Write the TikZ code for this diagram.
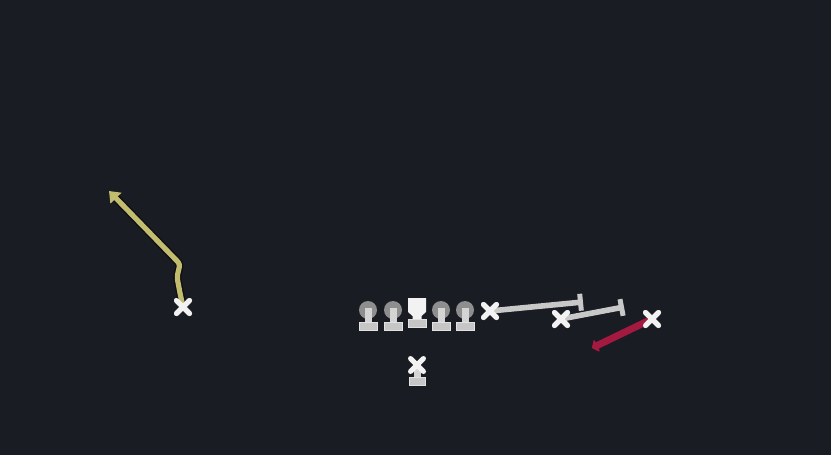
\documentclass[tikz,border=0pt]{standalone}
\usetikzlibrary{arrows.meta,shapes.misc}
\definecolor{bg}{HTML}{191C23}
\definecolor{xwhite}{HTML}{F2F2F2}
\definecolor{headgray}{HTML}{8E8E8E}
\definecolor{stemgray}{HTML}{D4D4D4}
\definecolor{basegray}{HTML}{C6C6C6}
\definecolor{routegray}{HTML}{C8C8C8}
\definecolor{routeyellow}{HTML}{C2BD6E}
\definecolor{routered}{HTML}{A3193F}
\definecolor{shade}{HTML}{0E0F12}
\begin{document}
\begin{tikzpicture}[x=1pt,y=-1pt,
  xmark/.style={draw=xwhite, cross out, line width=5pt, minimum size=8pt, inner sep=0pt, line cap=round},
  graylane/.style={draw=routegray, line width=5.6pt, -{Bar[width=17pt,line width=5pt]}},
  yroute/.style={draw=routeyellow, line width=5.2pt, line join=round, rounded corners=3pt,
     preaction={draw=shade, line width=8pt, line join=round},
     -{Triangle[width=15pt,length=10pt]}},
  rroute/.style={draw=routered, line width=7pt, line cap=round, -{Triangle[width=15pt,length=6pt,round]}},
  lineman/.pic={
    \fill[headgray] (0,0) circle (9);
    \fill[stemgray] (-3.5,-2) rectangle (3.5,13);
    \fill[basegray, draw=stemgray!70, line width=0.8pt] (-9,12) rectangle (9,20);
  },
  centerman/.pic={
    \fill[xwhite] (-9,-8) -- (9,-8) -- (9,6) -- (4.5,10) -- (4.5,13) -- (-4.5,13) -- (-4.5,10) -- (-9,6) -- cycle;
    \fill[basegray, draw=stemgray!70, line width=0.8pt] (-9,13) rectangle (9,21);
  },
  qbman/.pic={
    \fill[stemgray] (-3.5,3) rectangle (3.5,13);
    \fill[basegray, draw=stemgray!70, line width=0.8pt] (-8,12) rectangle (8,20.5);
  }
]
\fill[bg] (0,0) rectangle (831,455);
\useasboundingbox (0,0) rectangle (831,455);

% offensive line
\coordinate (lt) at (368,310);
\coordinate (lg) at (393,310);
\coordinate (c)  at (417,306);
\coordinate (rg) at (441,310);
\coordinate (rt) at (465,310);
\pic at (lt) {lineman};
\pic at (lg) {lineman};
\pic at (c)  {centerman};
\pic at (rg) {lineman};
\pic at (rt) {lineman};

% quarterback
\coordinate (qbpos) at (417,365);
\pic at (qbpos) {qbman};
\node[xmark] (qb) at (qbpos) {};

% receivers
\node[xmark] (wr) at (183,307) {};
\node[xmark] (s1) at (490,311) {};
\node[xmark] (s2) at (561,319) {};
\node[xmark] (rb) at (652,319) {};

% route end points
\coordinate (y1) at (180,293);
\coordinate (y2) at (177,277);
\coordinate (y3) at (180,264);
\coordinate (yend) at (109,191);
\coordinate (e1) at (583,302);
\coordinate (e2) at (624,307);
\coordinate (rend) at (592,348);

% routes
\draw[yroute] (wr.center) -- (y1) -- (y2) -- (y3) -- (yend);
\draw[graylane] (s1.center) -- (e1);
\draw[graylane] (s2.center) -- (e2);
\draw[rroute] (rb.center) -- (rend);

% redraw marks on top
\node[xmark] at (wr) {};
\node[xmark] at (s1) {};
\node[xmark] at (s2) {};
\node[xmark] at (rb) {};
\end{tikzpicture}
\end{document}
